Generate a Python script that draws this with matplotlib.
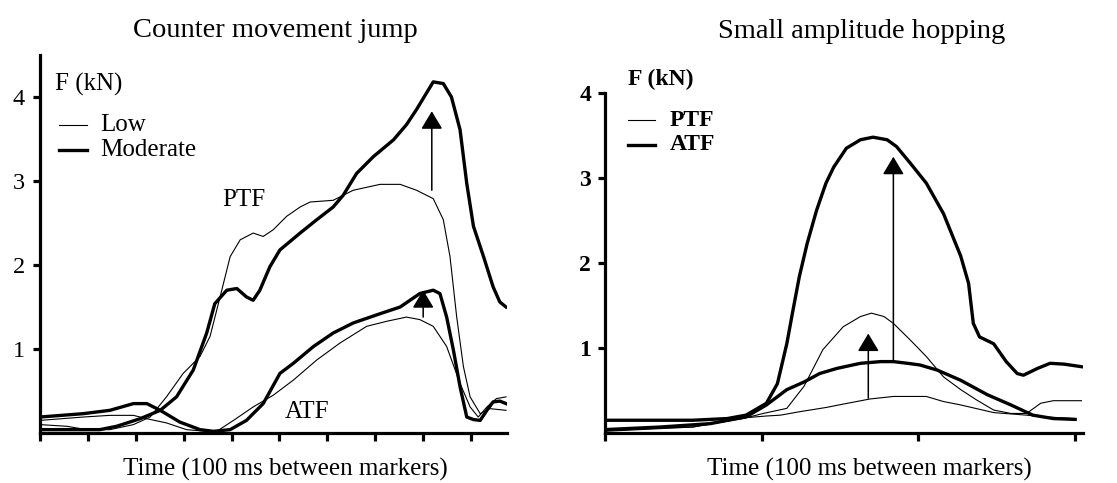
import matplotlib
matplotlib.use("Agg")
import matplotlib.pyplot as plt

SERIF = "Liberation Serif"

# ---------------- Counter movement jump (time in 100 ms units, force in kN)
cmj_mod_ptf_t = [0.00, 0.56, 1.25, 1.60, 2.09, 2.51, 2.85, 3.20, 3.48, 3.65, 3.90, 4.11,
                 4.31, 4.45, 4.59, 4.80, 5.01, 5.43, 5.78, 6.12, 6.33, 6.61, 6.96, 7.38,
                 7.65, 7.86, 8.04, 8.21, 8.42, 8.59, 8.77, 8.91, 9.05, 9.26, 9.46, 9.60, 9.73]
cmj_mod_ptf = [0.04, 0.04, 0.04, 0.08, 0.17, 0.27, 0.43, 0.75, 1.19, 1.54, 1.70, 1.72,
               1.62, 1.58, 1.70, 1.98, 2.18, 2.38, 2.54, 2.69, 2.83, 3.09, 3.29, 3.49,
               3.67, 3.85, 4.02, 4.18, 4.16, 4.00, 3.61, 2.97, 2.46, 2.10, 1.74, 1.56, 1.50]

cmj_low_ptf_t = [0.00, 0.56, 0.97, 1.46, 1.95, 2.30, 2.64, 2.99, 3.34, 3.55, 3.76, 3.97,
                 4.18, 4.45, 4.66, 4.87, 5.15, 5.43, 5.64, 6.12, 6.54, 7.10, 7.52, 7.86,
                 8.21, 8.42, 8.56, 8.70, 8.84, 8.98, 9.19, 9.39, 9.73]
cmj_low_ptf = [0.10, 0.08, 0.04, 0.04, 0.10, 0.19, 0.43, 0.71, 0.91, 1.15, 1.62, 2.10,
               2.30, 2.38, 2.34, 2.42, 2.58, 2.69, 2.75, 2.77, 2.89, 2.96, 2.96, 2.89,
               2.79, 2.54, 2.10, 1.38, 0.79, 0.43, 0.23, 0.29, 0.27]

cmj_low_atf_t = [0.00, 0.90, 1.46, 1.95, 2.23, 2.64, 3.06, 3.48, 3.69, 4.04, 4.45, 4.87,
                 5.29, 5.78, 6.26, 6.82, 7.24, 7.65, 7.93, 8.21, 8.49, 8.77, 8.98, 9.15,
                 9.33, 9.53, 9.73]
cmj_low_atf = [0.15, 0.19, 0.21, 0.21, 0.17, 0.12, 0.04, 0.02, 0.02, 0.15, 0.31, 0.45,
               0.63, 0.87, 1.07, 1.27, 1.33, 1.38, 1.35, 1.27, 1.03, 0.59, 0.31, 0.19,
               0.31, 0.41, 0.43]

cmj_mod_atf_t = [0.00, 0.90, 1.46, 1.95, 2.23, 2.51, 2.92, 3.34, 3.62, 3.97, 4.31, 4.66,
                 5.01, 5.29, 5.71, 6.12, 6.54, 7.10, 7.52, 7.93, 8.21, 8.35, 8.49, 8.63,
                 8.77, 8.91, 9.05, 9.19, 9.33, 9.46, 9.60, 9.73]
cmj_mod_atf = [0.19, 0.23, 0.27, 0.35, 0.35, 0.27, 0.13, 0.04, 0.02, 0.04, 0.15, 0.35,
               0.71, 0.83, 1.03, 1.19, 1.31, 1.42, 1.50, 1.66, 1.70, 1.66, 1.38, 0.99,
               0.55, 0.19, 0.16, 0.15, 0.27, 0.37, 0.38, 0.35]

# arrows: (time, from, to)
cmj_arrows = [(8.18, 2.89, 3.83), (8.00, 1.38, 1.70)]
cmj_ticks = list(range(10))
cmj_yticks = [1, 2, 3, 4]

# ---------------- Small amplitude hopping
hop_high_atf_t = [0.00, 0.35, 0.56, 0.78, 0.90, 1.03, 1.10, 1.16, 1.20, 1.24, 1.29, 1.35,
                  1.41, 1.46, 1.54, 1.63, 1.71, 1.80, 1.86, 1.95, 2.05, 2.16, 2.27, 2.32,
                  2.35, 2.39, 2.48, 2.56, 2.63, 2.67, 2.76, 2.84, 2.93, 3.04]
hop_high_atf = [0.15, 0.15, 0.15, 0.17, 0.21, 0.35, 0.58, 1.05, 1.45, 1.84, 2.23, 2.62,
                2.94, 3.13, 3.35, 3.45, 3.48, 3.45, 3.37, 3.17, 2.94, 2.58, 2.08, 1.76,
                1.29, 1.13, 1.05, 0.84, 0.70, 0.68, 0.76, 0.82, 0.81, 0.78]

hop_low_atf_t = [0.00, 0.35, 0.67, 0.90, 1.03, 1.16, 1.27, 1.37, 1.48, 1.63, 1.76, 1.84,
                 1.93, 2.01, 2.12, 2.27, 2.44, 2.59, 2.73, 2.86, 3.00]
hop_low_atf = [0.04, 0.07, 0.11, 0.19, 0.33, 0.51, 0.60, 0.70, 0.76, 0.82, 0.84, 0.84,
               0.82, 0.80, 0.74, 0.62, 0.45, 0.33, 0.21, 0.17, 0.16]

hop_high_ptf_t = [0.00, 0.56, 0.88, 1.01, 1.16, 1.27, 1.39, 1.52, 1.63, 1.70, 1.78, 1.84,
                  1.95, 2.05, 2.16, 2.27, 2.37, 2.48, 2.59, 2.69, 2.78, 2.86, 3.04]
hop_high_ptf = [0.04, 0.07, 0.17, 0.23, 0.29, 0.55, 0.98, 1.25, 1.37, 1.41, 1.37, 1.29,
                1.09, 0.90, 0.66, 0.51, 0.39, 0.27, 0.23, 0.23, 0.35, 0.38, 0.38]

hop_low_ptf_t = [0.00, 0.56, 0.90, 1.03, 1.12, 1.24, 1.41, 1.52, 1.69, 1.84, 2.05, 2.16,
                 2.27, 2.48, 2.69, 2.80, 3.00]
hop_low_ptf = [0.02, 0.07, 0.18, 0.20, 0.21, 0.25, 0.30, 0.34, 0.40, 0.43, 0.43, 0.37,
               0.33, 0.24, 0.21, 0.19, 0.17]

hop_arrows = [(1.68, 0.41, 1.17), (1.84, 0.84, 3.25)]
hop_ticks = [0, 1, 2, 3]
hop_yticks = [1, 2, 3, 4]

THIN = 0.8
THICK = 2.4
SPINE = 2.3
W, H = 1117, 483

fig = plt.figure(figsize=(W / 100, H / 100), dpi=100)


def px_axes(left, right, top, bottom):
    return fig.add_axes([left / W, 1 - bottom / H, (right - left) / W, (bottom - top) / H])


def style_axes(ax, xmax, ymax, xticks, yticks, label_size, label_weight, ypad):
    ax.set_xlim(0, xmax)
    ax.set_ylim(0, ymax)
    for side in ("top", "right"):
        ax.spines[side].set_visible(False)
    for side in ("left", "bottom"):
        ax.spines[side].set_linewidth(SPINE)
    ax.set_xticks(xticks)
    ax.set_xticklabels([])
    ax.set_yticks(yticks)
    ax.set_yticklabels([str(v) for v in yticks], fontfamily=SERIF,
                       fontsize=label_size, fontweight=label_weight)
    ax.tick_params(axis="x", direction="out", length=6, width=SPINE)
    ax.tick_params(axis="y", direction="out", length=5, width=SPINE, pad=ypad)
    ax.patch.set_alpha(0)


def draw_arrows(ax, arrows):
    for t, y0, y1 in arrows:
        ax.annotate("", xy=(t, y1), xytext=(t, y0),
                    arrowprops=dict(arrowstyle="-|>,head_width=0.33,head_length=0.55",
                                    lw=1.1, color="black", mutation_scale=20,
                                    shrinkA=0, shrinkB=0))


# ---------- left panel
ax1 = px_axes(40, 507, 55, 433)
style_axes(ax1, 9.75, 4.5, cmj_ticks, cmj_yticks, 17.5, "normal", 6)
ax1.plot(cmj_low_ptf_t, cmj_low_ptf, color="black", lw=THIN)
ax1.plot(cmj_low_atf_t, cmj_low_atf, color="black", lw=THIN)
ax1.plot(cmj_mod_ptf_t, cmj_mod_ptf, color="black", lw=THICK)
ax1.plot(cmj_mod_atf_t, cmj_mod_atf, color="black", lw=THICK)
draw_arrows(ax1, cmj_arrows)

txt = dict(fontfamily=SERIF, fontsize=18, va="center", ha="left")
ax1.text(0.31, 4.15, "F (kN)", **txt)
ax1.plot([0.40, 0.98], [3.67, 3.67], color="black", lw=THIN)
ax1.text(1.25, 3.67, "Low", **txt)
ax1.plot([0.40, 0.98], [3.37, 3.37], color="black", lw=THICK)
ax1.text(1.25, 3.37, "Moderate", **txt)
ax1.text(3.80, 2.77, "PTF", **txt)
ax1.text(5.11, 0.25, "ATF", **txt)

# ---------- right panel
ax2 = px_axes(605, 1083, 93, 433)
style_axes(ax2, 3.05, 4.0, hop_ticks, hop_yticks, 17, "bold", 5)
ax2.plot(hop_high_ptf_t, hop_high_ptf, color="black", lw=THIN)
ax2.plot(hop_low_ptf_t, hop_low_ptf, color="black", lw=THIN)
ax2.plot(hop_high_atf_t, hop_high_atf, color="black", lw=THICK)
ax2.plot(hop_low_atf_t, hop_low_atf, color="black", lw=THICK)
draw_arrows(ax2, hop_arrows)

btxt = dict(fontfamily=SERIF, fontsize=17, fontweight="bold", va="center", ha="left")
ax2.text(0.147, 4.16, "F (kN)", clip_on=False, **btxt)
ax2.plot([0.147, 0.32], [3.68, 3.68], color="black", lw=THIN)
ax2.text(0.415, 3.68, "PTF", **btxt)
ax2.plot([0.147, 0.32], [3.39, 3.39], color="black", lw=THICK)
ax2.text(0.415, 3.39, "ATF", **btxt)

# ---------- titles and axis captions
fig.text(275 / W, 1 - 37 / H, "Counter movement jump", fontfamily=SERIF,
         fontsize=20.5, ha="center", va="baseline")
fig.text(862 / W, 1 - 38 / H, "Small amplitude hopping", fontfamily=SERIF,
         fontsize=20.5, ha="center", va="baseline")
fig.text(285 / W, 1 - 476 / H, "Time (100 ms between markers)", fontfamily=SERIF,
         fontsize=18, ha="center", va="baseline")
fig.text(869 / W, 1 - 476 / H, "Time (100 ms between markers)", fontfamily=SERIF,
         fontsize=18, ha="center", va="baseline")

fig.savefig("out.png", dpi=100, facecolor="white")
